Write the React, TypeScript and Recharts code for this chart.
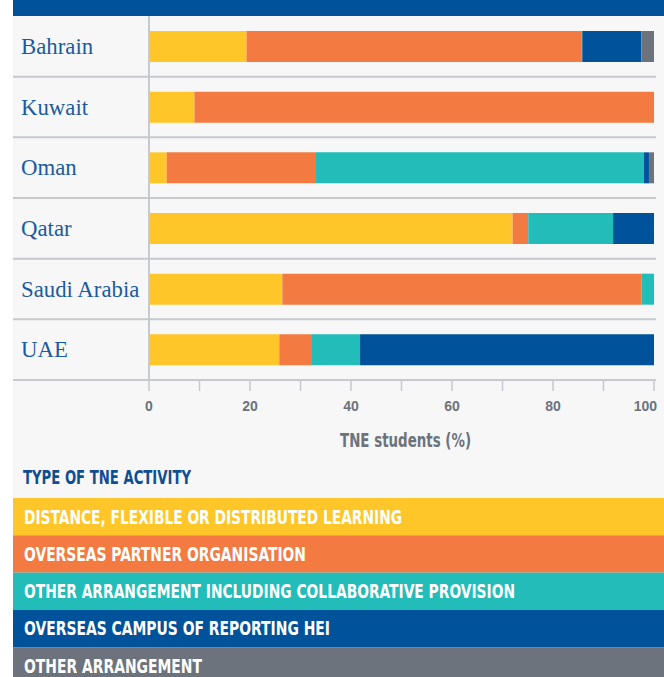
import { BarChart, Bar, XAxis, YAxis, Legend } from 'recharts';

const countries = ['Bahrain', 'Kuwait', 'Oman', 'Qatar', 'Saudi Arabia', 'UAE'];
const distance = [19.3, 9.0, 3.5, 72.0, 26.4, 25.8];
const partner = [66.3, 91.0, 29.4, 3.1, 71.1, 6.3];
const collaborative = [0.2, 0, 65.1, 16.8, 2.5, 9.7];
const campus = [11.7, 0, 1.0, 8.1, 0, 58.2];
const otherArrangement = [2.5, 0, 1.0, 0, 0, 0];

const xTicks = [0, 10, 20, 30, 40, 50, 60, 70, 80, 90, 100];
const labelledTicks = [0, 20, 40, 60, 80, 100];

const series = [
  { key: 'distance', name: 'DISTANCE, FLEXIBLE OR DISTRIBUTED LEARNING', color: '#ffc629' },
  { key: 'partner', name: 'OVERSEAS PARTNER ORGANISATION', color: '#f37b42' },
  { key: 'collaborative', name: 'OTHER ARRANGEMENT INCLUDING COLLABORATIVE PROVISION', color: '#22bcb9' },
  { key: 'campus', name: 'OVERSEAS CAMPUS OF REPORTING HEI', color: '#00529b' },
  { key: 'other', name: 'OTHER ARRANGEMENT', color: '#6d737c' },
];

// rendered widths of the condensed legend labels
const legendTextWidth: Record<string, number> = {
  distance: 378,
  partner: 282,
  collaborative: 491,
  campus: 306,
  other: 178,
};

const data = countries.map((country, i) => ({
  country,
  distance: distance[i],
  partner: partner[i],
  collaborative: collaborative[i],
  campus: campus[i],
  other: otherArrangement[i],
}));

const condensed = "'Liberation Sans Narrow', 'DejaVu Sans Condensed', 'Roboto Condensed', 'Liberation Sans', sans-serif";
const lineColor = '#c6c9ce';

const CountryTick = (props: any) => {
  const { y, payload } = props;
  const half = payload.offset || 30.33;
  return (
    <g>
      <text x={21} y={y + 7.5} fill="#1c5a9e" fontSize={22.8} fontFamily="'Liberation Serif', 'Times New Roman', serif">
        {payload.value}
      </text>
      <line x1={13} x2={656} y1={y + half} y2={y + half} stroke={lineColor} strokeWidth={2} />
    </g>
  );
};

const PercentTick = (props: any) => {
  const { x, y, payload } = props;
  if (!labelledTicks.includes(payload.value)) return <g />;
  const last = payload.value === 100;
  return (
    <text
      x={last ? x + 3 : x}
      y={y + 18}
      textAnchor={last ? 'end' : 'middle'}
      fill="#6c737c"
      fontSize={14}
      fontWeight={700}
      fontFamily="'Liberation Sans', Arial, sans-serif"
    >
      {payload.value}
    </text>
  );
};

const AxisTitle = (props: any) => {
  const vb = props.viewBox || { x: 149, y: 380, width: 505 };
  return (
    <text
      x={vb.x + vb.width / 2 + 4}
      y={vb.y + 67}
      textAnchor="middle"
      fill="#6c737c"
      fontSize={20}
      fontWeight={700}
      fontFamily={condensed}
      textLength={131}
      lengthAdjust="spacingAndGlyphs"
    >
      TNE students (%)
    </text>
  );
};

const renderLegend = () => (
  <svg width={664} height={217} style={{ display: 'block' }}>
    <text
      x={23}
      y={24}
      fill="#0f4e93"
      fontSize={19.5}
      fontWeight={700}
      fontFamily={condensed}
      textLength={168}
      lengthAdjust="spacingAndGlyphs"
    >
      TYPE OF TNE ACTIVITY
    </text>
    {series.map((s, i) => {
      const top = 38 + i * 37.3;
      return (
        <g key={s.key}>
          <rect x={13} y={top} width={651} height={37.3} fill={s.color} />
          <text
            x={24}
            y={top + 25.5}
            fill="#ffffff"
            fontSize={19.5}
            fontWeight={700}
            fontFamily={condensed}
            textLength={legendTextWidth[s.key]}
            lengthAdjust="spacingAndGlyphs"
          >
            {s.name}
          </text>
        </g>
      );
    })}
  </svg>
);

export default function App() {
  return (
    <div style={{ position: 'absolute', left: 0, top: 0, width: 664, height: 677, background: '#ffffff', overflow: 'hidden' }}>
      <div style={{ position: 'absolute', left: 13, top: 0, width: 651, height: 677, background: '#f7f7f7' }} />
      <div style={{ position: 'absolute', left: 13, top: 0, width: 651, height: 16, background: '#00529b' }} />
      <div style={{ position: 'absolute', left: 0, top: 0 }}>
        <BarChart
          layout="vertical"
          width={664}
          height={677}
          data={data}
          margin={{ top: 16, right: 10, left: 0, bottom: 0 }}
          barSize={31}
        >
          <XAxis
            type="number"
            domain={[0, 100]}
            ticks={xTicks}
            interval={0}
            height={80}
            tickSize={11}
            axisLine={{ stroke: lineColor, strokeWidth: 2 }}
            tickLine={{ stroke: lineColor, strokeWidth: 1.5 }}
            tick={<PercentTick />}
            label={<AxisTitle />}
            allowDataOverflow
          />
          <YAxis
            type="category"
            dataKey="country"
            width={149}
            interval={0}
            axisLine={{ stroke: lineColor, strokeWidth: 2 }}
            tickLine={false}
            tick={<CountryTick />}
          />
          <Legend
            verticalAlign="bottom"
            align="left"
            content={renderLegend}
            wrapperStyle={{ left: 0, bottom: 0, width: 664, height: 217 }}
          />
          {series.map((s) => (
            <Bar key={s.key} dataKey={s.key} name={s.name} stackId="tne" fill={s.color} isAnimationActive={false} />
          ))}
        </BarChart>
      </div>
    </div>
  );
}
